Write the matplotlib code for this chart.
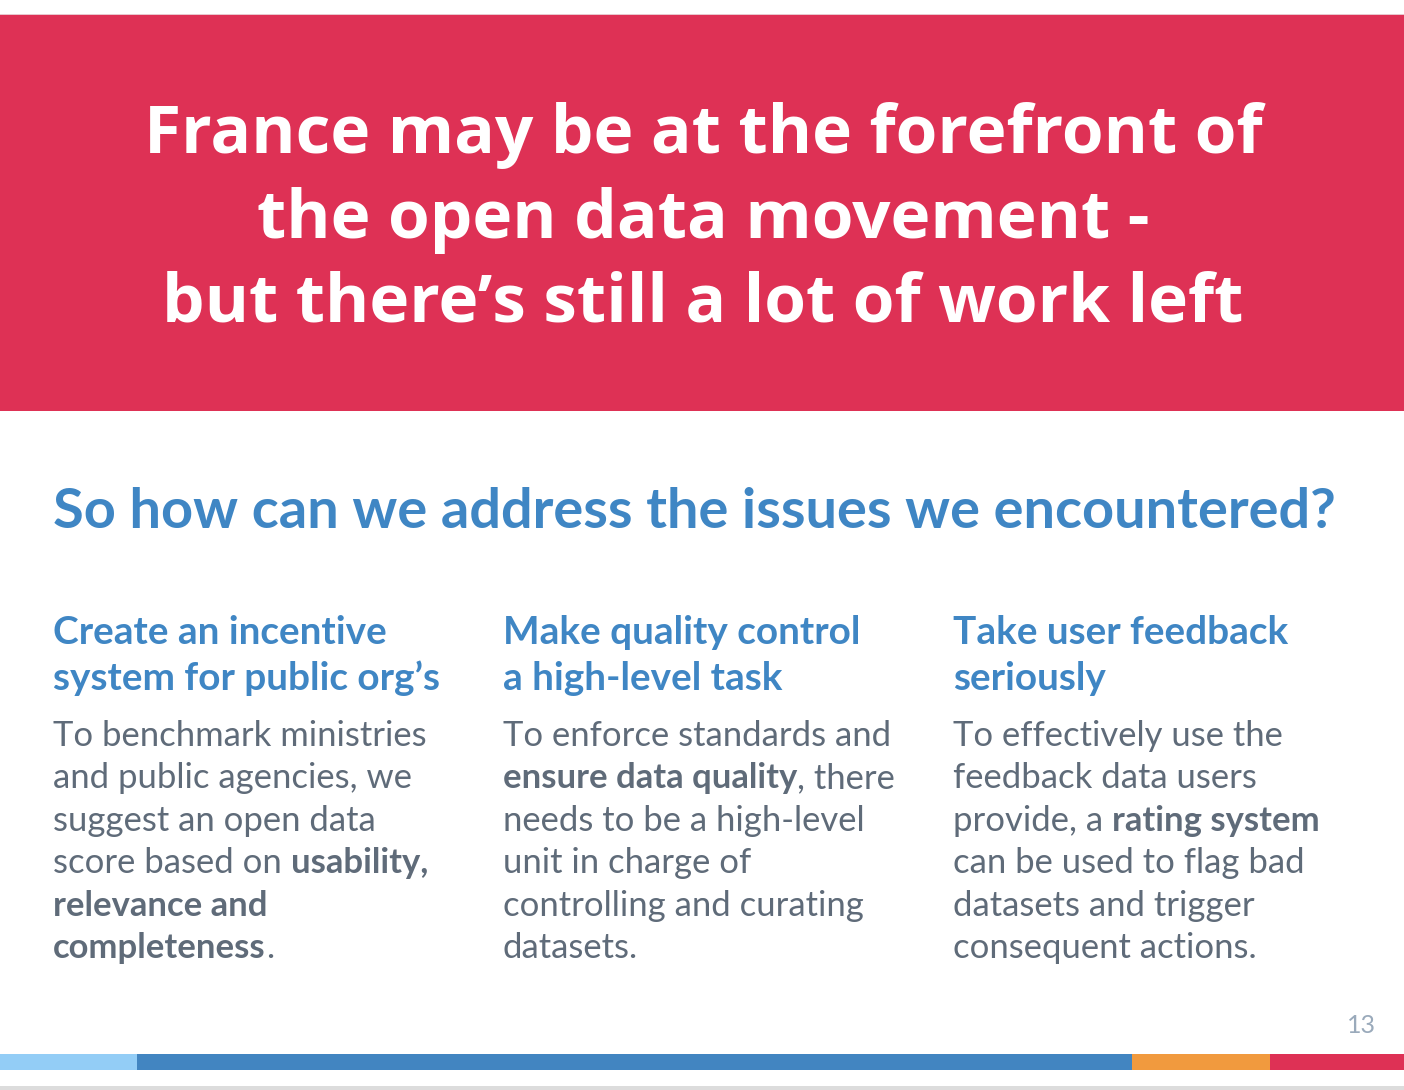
import matplotlib
matplotlib.use("Agg")
import matplotlib.pyplot as plt
from matplotlib.patches import Rectangle

# ---- content ----
title_lines = [
    "France may be at the forefront of",
    "the open data movement -",
    "but there\u2019s still a lot of work left",
]
subtitle = "So how can we address the issues we encountered?"

col_heads = [
    ["Create an incentive", "system for public org\u2019s"],
    ["Make quality control", "a high-level task"],
    ["Take user feedback", "seriously"],
]

# each line is a list of (text, bold) runs
col_bodies = [
    [
        [("To benchmark ministries", False)],
        [("and public agencies, we", False)],
        [("suggest an open data", False)],
        [("score based on ", False), ("usability,", True)],
        [("relevance and", True)],
        [("completeness", True), (".", False)],
    ],
    [
        [("To enforce standards and", False)],
        [("ensure data quality", True), (", there", False)],
        [("needs to be a high-level", False)],
        [("unit in charge of", False)],
        [("controlling and curating", False)],
        [("datasets.", False)],
    ],
    [
        [("To effectively use the", False)],
        [("feedback data users", False)],
        [("provide, a ", False), ("rating system", True)],
        [("can be used to flag bad", False)],
        [("datasets and trigger", False)],
        [("consequent actions.", False)],
    ],
]
page_number = "13"

# footer stripe segments (pixel bounds, colour)
stripe_bounds = [0, 137, 1132, 1270, 1404]
stripe_colors = ["#93cdf6", "#4285c1", "#f19a3e", "#de3155"]

# ---- style ----
RED = "#de3155"
BLUE = "#3f86c4"
GRAY = "#5f6b79"
W, H = 1404, 1090

fig = plt.figure(figsize=(W / 100, H / 100), dpi=100)
ax = fig.add_axes([0, 0, 1, 1])
ax.set_xlim(0, W)
ax.set_ylim(H, 0)
ax.axis("off")
fig.patch.set_facecolor("white")

renderer = fig.canvas.get_renderer()


def text_width(s, **kw):
    t = ax.text(0, 0, s, **kw)
    bb = t.get_window_extent(renderer)
    t.remove()
    return bb.width


def advance(s, **kw):
    return text_width("|" + s + "|", **kw) - text_width("||", **kw)


def fit_size(s, target, **kw):
    base = 40
    w = text_width(s, fontsize=base, **kw)
    return base * target / w


# header band
ax.add_patch(Rectangle((0, 14), W, 1, color="#e8c6cd", lw=0))
ax.add_patch(Rectangle((0, 15), W, 396, color=RED, lw=0))

tkw = dict(family="Open Sans", weight="bold")
tsize = fit_size(title_lines[0], 1117, **tkw)
for i, line in enumerate(title_lines):
    ax.text(W / 2 + 1, 153 + i * 84.5, line, ha="center", va="baseline",
            color="white", fontsize=tsize, **tkw)

# subtitle
skw = dict(family="Lato", weight="bold")
ssize = fit_size(subtitle, 1282, **skw)
ax.text(53, 528, subtitle, ha="left", va="baseline", color=BLUE,
        fontsize=ssize, **skw)

# columns
col_x = [53, 503, 953]
hsize = fit_size(col_heads[0][1], 388, **skw)
bkw = dict(family="Lato", weight="normal")
bsize = fit_size(col_bodies[1][0][0][0], 387, **bkw)

for cx, heads, body in zip(col_x, col_heads, col_bodies):
    for j, h in enumerate(heads):
        ax.text(cx, 644 + j * 46, h, ha="left", va="baseline", color=BLUE,
                fontsize=hsize, **skw)
    for j, runs in enumerate(body):
        x = cx
        y = 746 + j * 42.4
        for s, bold in runs:
            kw = dict(family="Lato", weight="bold" if bold else "normal")
            ax.text(x, y, s, ha="left", va="baseline", color=GRAY,
                    fontsize=bsize, **kw)
            x += advance(s, fontsize=bsize, **kw)

# page number
ax.text(1376, 1033, page_number, ha="right", va="baseline", color="#9aaabb",
        fontsize=18, family="Lato")

# footer stripe
for x0, x1, c in zip(stripe_bounds[:-1], stripe_bounds[1:], stripe_colors):
    ax.add_patch(Rectangle((x0, 1054), x1 - x0, 16, color=c, lw=0))
ax.add_patch(Rectangle((0, 1086), W, 4, color="#dcdcdc", lw=0))

fig.savefig("out.png", dpi=100, facecolor="white")
